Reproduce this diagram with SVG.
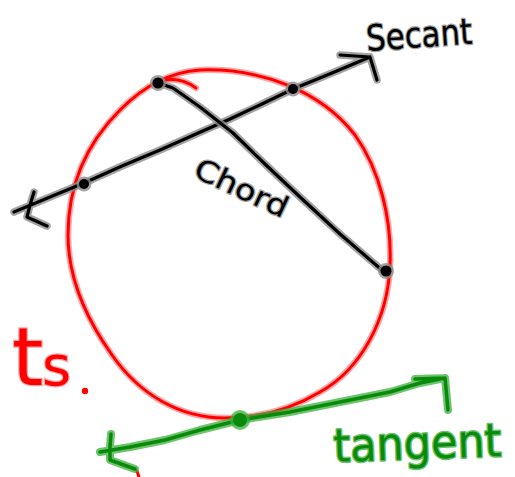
<svg xmlns="http://www.w3.org/2000/svg" xmlns:xlink="http://www.w3.org/1999/xlink" width="515" height="477" viewBox="0 0 515 477">
<style>
.ln{fill:none;stroke-linecap:round;stroke-linejoin:round}
.rh{stroke:#ff0000;stroke-opacity:.35;stroke-width:6.5}
.rc{stroke:#ff0000;stroke-width:3}
.kh{stroke:#8c8c8c;stroke-opacity:.8;stroke-width:7.5}
.kc{stroke:#000;stroke-width:3.2}
.gh{stroke:#3cb03c;stroke-opacity:.75;stroke-width:8}
.gc{stroke:#0a8a0a;stroke-width:3.5}
.tk{font-family:"DejaVu Sans",sans-serif;fill:#000;stroke:#8c8c8c;stroke-width:2.5;stroke-opacity:.8;paint-order:stroke;stroke-linejoin:round}
.tg{font-family:"DejaVu Sans",sans-serif;fill:#0a8a0a;stroke:#3cb03c;stroke-opacity:.75;stroke-width:3;paint-order:stroke;stroke-linejoin:round}
.tr{font-family:"DejaVu Sans",sans-serif;fill:#ff0000;stroke:#ff0000;stroke-opacity:.35;stroke-width:2.5;paint-order:stroke}
</style>
<defs>
<path id="circ" d="M200 70 C260 68,320 90,355 135 C380 170,392 220,390 265 C388 320,360 370,320 392 C290 410,260 418,225 418 C180 418,140 395,112 355 C80 310,68 270,68 235 C68 180,90 140,120 110 C145 85,170 72,200 70 Z"/>
<path id="sec" d="M14 212 L50 197 L84 183 L122 166 L160 150 L196 134 L230 119 L262 104 L293 89 L332 73 L370 57 M340 55 L370 57 L377 80 M34 192 L30 205 L27 217 L47 226"/>
<path id="chd" d="M158 83 L173 88 L200 107 L233 133 L266 165 L300 197 L340 234 L383 271"/>
<path id="tan" d="M100 452 L130 447 L165 440 L200 430 L240 420 L290 412 L340 402 L390 392 L420 383 L445 378 M415 379 L445 378 L448 410 M111 434 L110 447 L110 460 L135 469"/>
</defs>
<g id="circle-node">
<use xlink:href="#circ" class="ln rh"/>
<use xlink:href="#circ" class="ln rc"/>
<path d="M165 80 C178 78,188 82,196 88" class="ln rh"/>
<path d="M165 80 C178 78,188 82,196 88" class="ln rc"/>
<path d="M137 471 L139 477" class="ln rc"/>
</g>
<g id="connectors">
<g id="secant-line">
<use xlink:href="#sec" class="ln kh"/>
<use xlink:href="#sec" class="ln kc"/>
</g>
<g id="chord-line">
<use xlink:href="#chd" class="ln kh"/>
<use xlink:href="#chd" class="ln kc"/>
</g>
<g id="tangent-line">
<use xlink:href="#tan" class="ln gh"/>
<use xlink:href="#tan" class="ln gc"/>
</g>
</g>
<g id="points">
<circle cx="84" cy="184" r="7.5" fill="#8c8c8c" fill-opacity=".8"/>
<circle cx="84" cy="184" r="5" fill="#000"/>
<circle cx="293" cy="89" r="7.5" fill="#8c8c8c" fill-opacity=".8"/>
<circle cx="293" cy="89" r="5" fill="#000"/>
<circle cx="158" cy="83" r="8" fill="#8c8c8c" fill-opacity=".8"/>
<circle cx="158" cy="83" r="5.5" fill="#000"/>
<circle cx="386" cy="271" r="8" fill="#8c8c8c" fill-opacity=".8"/>
<circle cx="386" cy="271" r="5.5" fill="#000"/>
<circle cx="240" cy="420" r="10" fill="#3cb03c" fill-opacity=".75"/>
<circle cx="240" cy="420" r="7" fill="#0a8a0a"/>
</g>
<g id="labels">
<text class="tk" x="367" y="51" font-size="36" textLength="106" lengthAdjust="spacingAndGlyphs" transform="rotate(-4 367 51)">Secant</text>
<text class="tk" x="192" y="176" font-size="29" textLength="100" lengthAdjust="spacingAndGlyphs" transform="rotate(25 192 176)">Chord</text>
<text class="tg" x="334" y="462" font-size="46" textLength="168" lengthAdjust="spacingAndGlyphs" transform="rotate(-2 334 462)">tangent</text>
<text class="tr" y="385"><tspan x="12" font-size="80">t</tspan><tspan x="42" font-size="56">s</tspan></text>
<circle cx="85" cy="391" r="3.2" fill="#ff0000"/>
</g>
</svg>
